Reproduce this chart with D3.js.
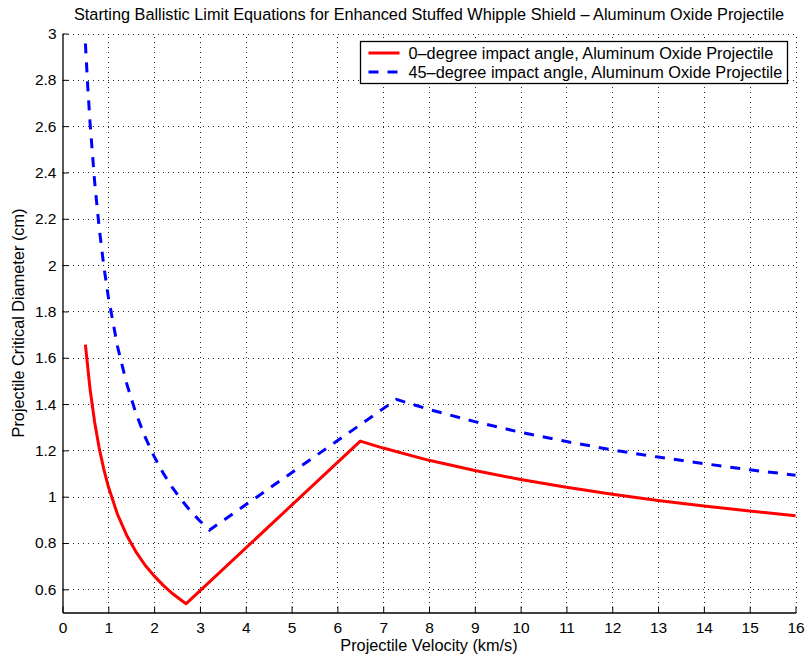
<!DOCTYPE html>
<html>
<head>
<meta charset="utf-8">
<script src="https://cdn.jsdelivr.net/npm/d3@7"></script>
<style>
  html, body { margin: 0; padding: 0; background: #fff; }
  svg { display: block; font-family: "Liberation Sans", Arial, Helvetica, sans-serif; }
</style>
</head>
<body>
<svg id="chart" width="806" height="659"></svg>
<script>
// Ballistic limit curves, velocity (km/s) vs critical diameter (cm)
const velocity0 = [0.5, 0.6, 0.7, 0.8, 0.9, 1.0, 1.2, 1.4, 1.6, 1.8, 2.0, 2.2, 2.4, 2.6, 2.7,
                   6.5, 7, 8, 9, 10, 11, 12, 13, 14, 15, 16];
const diameter0 = [1.657, 1.467, 1.324, 1.211, 1.120, 1.044, 0.924, 0.834, 0.763, 0.705, 0.658, 0.617, 0.582, 0.552, 0.538,
                   1.240, 1.210, 1.157, 1.113, 1.074, 1.041, 1.011, 0.984, 0.960, 0.938, 0.918];

const velocity45 = [0.5, 0.55, 0.6, 0.7, 0.8, 0.9, 1.0, 1.2, 1.4, 1.6, 1.8, 2.0, 2.2, 2.4, 2.6, 2.8, 3.0, 3.21,
                    7.29, 8, 9, 10, 11, 12, 13, 14, 15, 16];
const diameter45 = [2.957, 2.775, 2.618, 2.363, 2.162, 1.998, 1.863, 1.649, 1.489, 1.362, 1.259, 1.174, 1.101, 1.039, 0.985, 0.937, 0.895, 0.856,
                    1.420, 1.377, 1.324, 1.278, 1.238, 1.202, 1.171, 1.143, 1.116, 1.093];

const xTicks = d3.range(0, 17, 1);
const yTicks = [0.6, 0.8, 1, 1.2, 1.4, 1.6, 1.8, 2, 2.2, 2.4, 2.6, 2.8, 3];

const seriesNames = ["0–degree impact angle, Aluminum Oxide Projectile",
                     "45–degree impact angle, Aluminum Oxide Projectile"];
const titleText = "Starting Ballistic Limit Equations for Enhanced Stuffed Whipple Shield – Aluminum Oxide Projectile";
const xLabel = "Projectile Velocity (km/s)";
const yLabel = "Projectile Critical Diameter (cm)";

const svg = d3.select("#chart");
const m = { left: 62.5, top: 33.5, right: 795.5, bottom: 612.5 };
const fontTick = 15.5, fontText = 16.3;

const x = d3.scaleLinear().domain([0, 16]).range([m.left, m.right]);
const y = d3.scaleLinear().domain([0.5, 3]).range([m.bottom, m.top]);

// dotted grid
const grid = svg.append("g").attr("stroke", "#222").attr("stroke-width", 1)
  .attr("stroke-dasharray", "1,4").attr("shape-rendering", "crispEdges");
grid.selectAll(".gx").data(xTicks.filter(d => d > 0)).join("line")
  .attr("x1", d => Math.round(x(d)) + 0.5).attr("x2", d => Math.round(x(d)) + 0.5)
  .attr("y1", m.bottom).attr("y2", m.top);
grid.selectAll(".gy").data(yTicks).join("line")
  .attr("y1", d => Math.round(y(d)) + 0.5).attr("y2", d => Math.round(y(d)) + 0.5)
  .attr("x1", m.left).attr("x2", m.right);

// axes with inward ticks
const xAxis = d3.axisBottom(x).tickValues(xTicks).tickSizeInner(-6).tickSizeOuter(0).tickPadding(9);
const yAxis = d3.axisLeft(y).tickValues(yTicks).tickSizeInner(-6).tickSizeOuter(0).tickPadding(6)
  .tickFormat(d3.format("~g"));

const gx = svg.append("g").attr("transform", `translate(0,${m.bottom})`).call(xAxis);
const gy = svg.append("g").attr("transform", `translate(${m.left},0)`).call(yAxis);
[gx, gy].forEach(g => {
  g.select(".domain").attr("stroke", "#000").attr("stroke-width", 1.3);
  g.selectAll(".tick line").attr("stroke", "#000").attr("stroke-width", 1);
  g.selectAll(".tick text").attr("fill", "#000").attr("font-size", fontTick)
    .attr("font-family", "'Liberation Sans', Arial, sans-serif");
});
gx.selectAll(".tick text").attr("dy", "0.71em");

// series lines
const line = d3.line().x(d => x(d[0])).y(d => y(d[1]));
const pts0 = velocity0.map((v, i) => [v, diameter0[i]]);
const pts45 = velocity45.map((v, i) => [v, diameter45[i]]);

svg.append("path").datum(pts0).attr("d", line)
  .attr("fill", "none").attr("stroke", "#ff0000").attr("stroke-width", 3)
  .attr("stroke-linejoin", "round");
svg.append("path").datum(pts45).attr("d", line)
  .attr("fill", "none").attr("stroke", "#0000ff").attr("stroke-width", 3)
  .attr("stroke-dasharray", "10,9");

// title and axis labels
svg.append("text").attr("x", (m.left + m.right) / 2).attr("y", 20)
  .attr("text-anchor", "middle").attr("font-size", fontText).text(titleText);
svg.append("text").attr("x", (m.left + m.right) / 2).attr("y", 651)
  .attr("text-anchor", "middle").attr("font-size", fontText).text(xLabel);
svg.append("text").attr("transform", `translate(24,${(m.top + m.bottom) / 2}) rotate(-90)`)
  .attr("text-anchor", "middle").attr("font-size", fontText).text(yLabel);

// legend
const lg = svg.append("g");
const lgBox = { x: 360.5, y: 41.5, w: 427, h: 42 };
lg.append("rect").attr("x", lgBox.x).attr("y", lgBox.y).attr("width", lgBox.w).attr("height", lgBox.h)
  .attr("fill", "#fff").attr("stroke", "#000").attr("stroke-width", 1.3);
const styles = [{ c: "#ff0000", dash: null }, { c: "#0000ff", dash: "10,9" }];
seriesNames.forEach((name, i) => {
  const cy = lgBox.y + 11.5 + i * 19;
  lg.append("line").attr("x1", lgBox.x + 8).attr("x2", lgBox.x + 39).attr("y1", cy).attr("y2", cy)
    .attr("stroke", styles[i].c).attr("stroke-width", 3).attr("stroke-dasharray", styles[i].dash);
  lg.append("text").attr("x", lgBox.x + 48).attr("y", cy).attr("dy", "0.35em")
    .attr("font-size", fontText).text(name);
});
</script>
</body>
</html>
